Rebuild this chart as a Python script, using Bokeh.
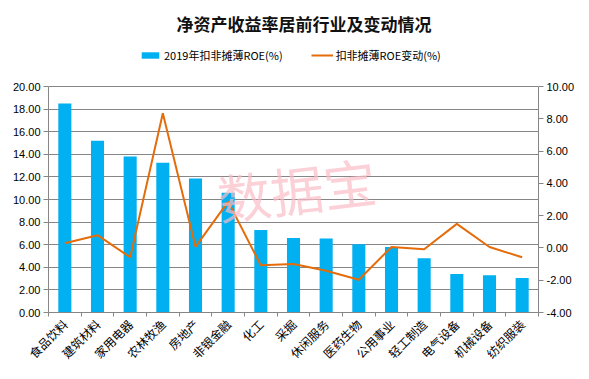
from bokeh.plotting import figure
from bokeh.models import (ColumnDataSource, Range1d, LinearAxis, FixedTicker, Legend, LegendItem,
                          NumeralTickFormatter, Label)
from bokeh.embed import file_html
from bokeh.resources import INLINE

categories = ["食品饮料", "建筑材料", "家用电器", "农林牧渔", "房地产", "非银金融", "化工", "采掘",
              "休闲服务", "医药生物", "公用事业", "轻工制造", "电气设备", "机械设备", "纺织服装"]
roe_2019 = [18.5, 15.2, 13.8, 13.25, 11.85, 10.6, 7.3, 6.6, 6.55, 6.05, 5.8, 4.8, 3.4, 3.3, 3.05]
roe_change = [0.29, 0.79, -0.58, 8.34, 0.07, 2.87, -1.08, -0.99, -1.41, -1.97, 0.06, -0.08, 1.49, 0.06, -0.58]
left_ticks = [0, 2, 4, 6, 8, 10, 12, 14, 16, 18, 20]
right_ticks = [-4, -2, 0, 2, 4, 6, 8, 10]

n = len(categories)
pos = list(range(n))
src = ColumnDataSource(dict(x=pos, roe=roe_2019, chg=roe_change, cat=categories))

GRID = "#868686"
CJK = "Noto Sans CJK SC"

# layout (pixels)
W, H = 589, 379
FL, FR, FB = 48, 538, 312          # frame left/right/bottom of the value area
VAL_TOP = 86                       # pixel row of the top tick
FT = 40                            # frame top (extends above value area to hold the legend)
val_px = FB - VAL_TOP
frame_px = FB - FT
l_lo, l_hi = left_ticks[0], left_ticks[-1]
r_lo, r_hi = right_ticks[0], right_ticks[-1]
l_top = l_lo + (l_hi - l_lo) * frame_px / val_px
r_top = r_lo + (r_hi - r_lo) * frame_px / val_px

p = figure(width=W, height=H, output_backend="svg", toolbar_location=None,
           x_range=Range1d(-0.5, n - 0.5), y_range=Range1d(l_lo, l_top),
           min_border_left=FL, min_border_right=W - FR, min_border_top=FT, min_border_bottom=H - FB,
           x_axis_location=None, y_axis_location=None)
p.outline_line_color = None
p.background_fill_color = "white"

p.extra_y_ranges = {"chg": Range1d(r_lo, r_top)}

# axes
yl = LinearAxis(ticker=FixedTicker(ticks=left_ticks), formatter=NumeralTickFormatter(format="0.00"),
                bounds=(l_lo, l_hi))
yr = LinearAxis(y_range_name="chg", ticker=FixedTicker(ticks=right_ticks),
                formatter=NumeralTickFormatter(format="0.00"), bounds=(r_lo, r_hi))
for ax in (yl, yr):
    ax.axis_line_color = GRID
    ax.major_tick_line_color = GRID
    ax.major_tick_out = 5
    ax.major_tick_in = 0
    ax.minor_tick_line_color = None
    ax.major_label_text_font = "Liberation Sans"
    ax.major_label_text_font_size = "11px"
    ax.major_label_text_color = "black"
    ax.major_label_standoff = 3
p.add_layout(yl, "left")
p.add_layout(yr, "right")

xa = LinearAxis(ticker=FixedTicker(ticks=pos, minor_ticks=[i - 0.5 for i in range(n + 1)]))
xa.major_label_overrides = {i: c for i, c in zip(pos, categories)}
xa.axis_line_color = GRID
xa.major_tick_line_color = None
xa.major_tick_out = 0
xa.major_tick_in = 0
xa.minor_tick_line_color = GRID
xa.minor_tick_out = 4
xa.minor_tick_in = 0
xa.major_label_orientation = 0.785
xa.major_label_text_font = CJK
xa.major_label_text_font_size = "12px"
xa.major_label_text_color = "black"
xa.major_label_standoff = 5
p.add_layout(xa, "below")

p.xgrid.visible = False
p.ygrid.ticker = FixedTicker(ticks=left_ticks)
p.ygrid.grid_line_color = GRID
p.ygrid.grid_line_width = 1

bars = p.vbar(x="x", top="roe", width=0.4, source=src, fill_color="#00B0F0", line_color=None)
wm = Label(x=7.1, y=11.0, text="数据宝", text_font=CJK, text_font_size="53px",
           text_color="#F9BCC6", text_alpha=0.7, text_align="center", text_baseline="middle", angle=0.12)
p.add_layout(wm)
line = p.line(x="x", y="chg", source=src, y_range_name="chg", line_color="#E46C0A", line_width=2)

legend = Legend(items=[LegendItem(label="2019年扣非摊薄ROE(%)", renderers=[bars]),
                       LegendItem(label="扣非摊薄ROE变动(%)", renderers=[line])],
                orientation="horizontal", location=(91, 249),
                label_text_font=CJK, label_text_font_size="11px", label_text_color="black",
                glyph_width=22, glyph_height=8, spacing=28, label_standoff=3,
                background_fill_alpha=0, border_line_color=None, margin=0, padding=4)
p.add_layout(legend)

p.title.text = "净资产收益率居前行业及变动情况"
p.title.text_font = CJK
p.title.text_font_size = "17px"
p.title.text_font_style = "bold"
p.title.align = "left"
p.title.offset = 128
p.title.text_color = "#111111"

open("out.html", "w").write(file_html(p, INLINE))
